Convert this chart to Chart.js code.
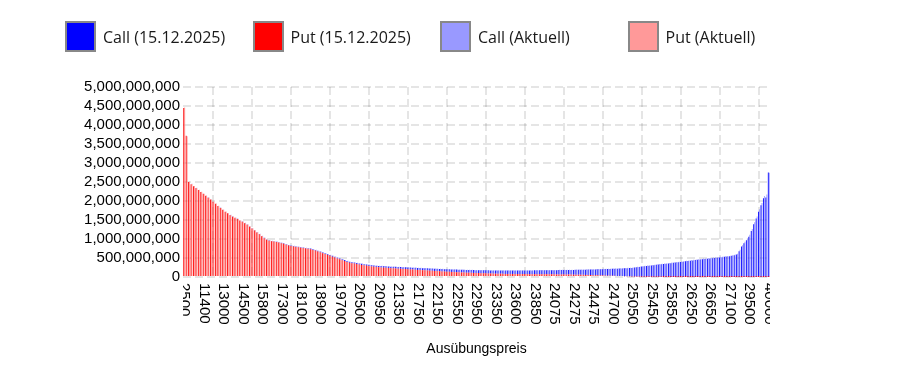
<!DOCTYPE html>
<html><head><meta charset="utf-8">
<script src="https://cdn.jsdelivr.net/npm/chart.js@4.4.1/dist/chart.umd.min.js"></script>
<style>
html,body{margin:0;padding:0;background:#fff;}
#wrap{position:relative;width:911px;height:384px;}
#legend{position:absolute;left:65px;top:21px;display:flex;font-family:'Open Sans',sans-serif;font-size:16px;color:#1a1a1a;}
.item{width:187.5px;display:flex;align-items:center;height:31px;white-space:nowrap;}
.box{width:31px;height:31px;box-sizing:border-box;border:2px solid #888;margin-right:7px;flex:none;}
</style></head><body>
<div id="wrap"><canvas id="c" width="911" height="384"></canvas><div id="legend"></div></div>
<script>
const strikes = [2500,4000,6000,8000,9000,10000,10500,11000,11400,
11600,11800,12000,12200,12400,12600,12800,13000,
13200,13400,13600,13800,14000,14200,14400,14500,
14600,14800,15000,15200,15400,15500,15600,15800,
16000,16200,16400,16600,16800,17000,17200,17300,
17400,17500,17600,17700,17800,17900,18000,18100,
18200,18300,18400,18500,18600,18700,18800,18900,
19000,19100,19200,19300,19400,19500,19600,19700,
19800,19900,20000,20100,20200,20300,20400,20500,
20600,20650,20700,20750,20800,20850,20900,20950,
21000,21050,21100,21150,21200,21250,21300,21350,
21400,21450,21500,21550,21600,21650,21700,21750,
21800,21850,21900,21950,22000,22050,22100,22150,
22200,22250,22300,22350,22400,22450,22500,22550,
22600,22650,22700,22750,22800,22850,22900,22950,
23000,23050,23100,23150,23200,23250,23300,23350,
23400,23450,23475,23500,23525,23550,23575,23600,
23625,23650,23675,23700,23725,23750,23800,23850,
23875,23900,23925,23950,23975,24000,24050,24075,
24100,24125,24150,24175,24200,24225,24250,24275,
24300,24325,24350,24375,24400,24425,24450,24475,
24500,24525,24550,24575,24600,24625,24650,24700,
24750,24800,24850,24900,24950,25000,25025,25050,
25100,25150,25200,25250,25300,25350,25400,25450,
25500,25550,25600,25650,25700,25750,25800,25850,
25900,25950,26000,26050,26100,26150,26200,26250,
26300,26350,26400,26450,26500,26550,26600,26650,
26700,26750,26800,26850,26900,26950,27000,27100,
27200,27400,27600,27800,28000,28500,29000,29500,
30000,31000,32000,33000,34000,35000,37500,40000];

// values in millions
const put15 = [4449,3719,2499,2439,2389,2338,2288,2238,2188,2138,
2088,2038,1977,1927,1867,1817,1767,1717,1676,1626,
1586,1556,1526,1485,1455,1415,1375,1324,1274,1224,
1174,1123,1073,1023,982,957,942,931,919,905,
890,874,851,828,818,805,792,781,771,760,
750,741,732,713,695,672,650,626,602,580,
559,535,513,489,466,444,420,396,374,363,
352,339,329,318,307,296,287,279,271,263,
256,251,246,241,236,232,228,224,220,216,
212,208,203,199,195,191,187,183,179,175,
171,167,163,159,155,151,148,144,141,137,
134,130,127,124,121,118,115,112,109,106,
104,102,100,98,96,94,92,90,88,87,
85,84,82,81,80,79,78,78,77,77,
76,76,75,75,75,74,74,73,73,72,
72,71,70,69,68,67,66,65,64,63,
62,61,60,58,56,54,52,50,48,46,
44,42,40,38,36,34,32,30,28,26,
24,22,20,18,16,14,12,10,9,8,
7,6,5,5,4,4,4,3,3,3,
3,3,2,2,2,2,2,2,2,2,
2,2,2,2,1,1,1,1,1,1,
1,1,1,1,1,1,1,1,1,1,
1,1,1,1,1,1,1,1,1,1,1];

const call15 = [1,1,1,1,1,2,2,2,2,2,
2,2,3,3,3,3,3,3,4,4,
4,4,4,5,5,5,5,6,6,6,
6,7,7,7,8,8,8,9,9,10,
10,11,11,12,12,13,13,14,14,15,
15,16,16,17,17,18,18,19,20,20,
21,22,22,23,24,24,25,26,26,27,
28,29,29,30,31,32,33,33,34,35,
36,37,38,39,40,41,42,43,44,45,
46,47,48,49,50,51,52,53,54,55,
56,57,58,59,60,61,62,63,64,65,
66,67,68,69,70,71,72,73,74,75,
76,77,78,79,80,81,82,83,84,85,
86,87,88,89,90,91,92,93,94,95,
96,97,98,99,100,101,102,103,104,105,
106,107,109,111,113,115,117,119,121,123,
125,127,129,132,136,139,144,146,150,154,
158,162,166,170,174,178,182,187,192,197,
202,207,212,218,222,235,246,256,266,275,
283,292,300,307,316,323,331,339,347,354,
362,369,378,385,393,402,411,419,428,435,
443,450,458,465,474,481,489,495,502,508,
514,522,529,537,544,556,569,589,679,799,
889,969,1059,1209,1389,1539,1719,1889,2069,2089,2749];

const putAkt = [4460,3700,2510,2450,2395,2345,2296,2244,2192,2144,
2093,2042,1985,1932,1873,1822,1771,1722,1680,1632,
1592,1560,1530,1490,1460,1420,1380,1330,1280,1230,
1180,1128,1078,1028,987,960,946,934,922,909,
894,878,855,832,822,809,796,785,774,764,
754,745,736,717,699,676,654,630,606,584,
563,539,517,493,470,448,424,400,378,367,
356,343,333,322,311,300,291,283,275,267,
260,255,250,245,240,236,232,228,224,220,
216,212,207,203,199,195,191,187,183,179,
175,171,167,163,159,155,152,148,145,141,
138,134,131,128,125,122,119,116,113,110,
108,106,104,102,100,98,96,94,92,91,
89,88,86,85,84,83,82,82,81,81,
80,80,79,79,79,78,78,77,77,76,
76,75,74,73,72,71,70,69,68,67,
66,65,64,62,60,58,56,54,52,50,
48,46,44,42,40,38,36,34,32,30,
28,26,24,22,20,18,16,14,12,10,
9,8,7,6,5,5,4,4,4,3,
3,3,3,3,2,2,2,2,2,2,
2,2,2,2,2,2,1,1,1,1,
1,1,1,1,1,1,1,1,1,1,
1,1,1,1,1,1,1,1,1,1,1];

const callAkt = [1,1,1,1,1,2,2,2,2,2,
2,2,3,3,3,3,3,3,4,4,
4,4,4,5,5,5,5,6,6,6,
6,7,7,7,8,8,8,9,9,10,
10,11,11,12,12,13,13,14,14,15,
15,16,16,17,17,18,18,19,20,20,
21,22,22,23,24,24,25,26,26,27,
28,29,29,30,31,32,33,33,34,35,
37,38,39,40,41,42,43,44,45,46,
47,48,49,50,51,52,53,54,55,56,
57,58,59,60,61,62,63,64,65,66,
67,68,69,70,71,72,73,74,75,76,
77,78,79,80,81,82,83,84,85,86,
87,88,89,90,91,92,93,94,95,96,
97,98,99,100,101,102,103,104,105,106,
108,110,112,114,116,118,120,122,124,126,
128,130,132,136,140,143,147,151,155,159,
163,167,171,175,179,183,188,193,198,203,
208,213,218,224,230,241,252,263,274,284,
293,302,310,319,328,336,344,352,360,368,
376,384,392,400,409,418,426,435,443,451,
458,466,474,482,489,497,504,511,518,524,
530,538,546,554,561,573,589,612,714,836,
926,1012,1108,1260,1437,1594,1781,1948,2130,2172,2744];

const seriesLabels = ['Put (15.12.2025)','Call (15.12.2025)','Put (Aktuell)','Call (Aktuell)'];
const legendOrder = [1,0,3,2];
const yTicks = [0,500000000,1000000000,1500000000,2000000000,2500000000,3000000000,3500000000,4000000000,4500000000,5000000000];
const xTitle = 'Ausübungspreis';
const MIO = 1e6;

const htmlLegend = {
  id: 'htmlLegend',
  afterUpdate(chart) {
    const el = document.getElementById('legend');
    el.innerHTML = '';
    legendOrder.forEach(i => {
      const ds = chart.data.datasets[i];
      const item = document.createElement('div'); item.className = 'item';
      const box = document.createElement('span'); box.className = 'box'; box.style.background = ds.backgroundColor;
      const txt = document.createElement('span'); txt.textContent = ds.label;
      item.appendChild(box); item.appendChild(txt); el.appendChild(item);
    });
  }
};

const gridStyle = { color: 'rgba(0,0,0,0.1)', lineWidth: 2, drawTicks: false };
const tickFont = { family: "'Liberation Sans', Arial, sans-serif", size: 15 };
const titleFont = { family: "'Liberation Sans', Arial, sans-serif", size: 14 };

new Chart(document.getElementById('c'), {
  type: 'bar',
  data: {
    labels: strikes.map(String),
    datasets: [
      { label: seriesLabels[0], data: put15.map(v => v * MIO), backgroundColor: '#ff0000', stack: 'd1' },
      { label: seriesLabels[1], data: call15.map(v => v * MIO), backgroundColor: '#0000ff', stack: 'd1' },
      { label: seriesLabels[2], data: putAkt.map(v => v * MIO), backgroundColor: '#ff9999', stack: 'd2' },
      { label: seriesLabels[3], data: callAkt.map(v => v * MIO), backgroundColor: '#9999ff', stack: 'd2' }
    ]
  },
  options: {
    responsive: false,
    animation: false,
    layout: { padding: { left: 0, right: 141, top: 87, bottom: 22 } },
    plugins: { legend: { display: false }, tooltip: { enabled: false } },
    scales: {
      x: {
        stacked: true,
        grid: Object.assign({}, gridStyle),
        border: { display: false, dash: [8, 4] },
        ticks: { autoSkip: true, autoSkipPadding: 0, maxTicksLimit: 31, minRotation: -90, maxRotation: -90, padding: 6, color: '#000', font: tickFont },
        title: { display: true, text: xTitle, color: '#000', font: titleFont, padding: { top: 4, bottom: 4 } },
        afterFit(scale) { scale.height = 85; },
        afterUpdate(scale) {
          scale._computeLabelArea = function () { return { top: this.top, left: this.left, bottom: this.bottom, right: this.right }; };
          scale._getXAxisLabelAlignment = function () { return 'left'; };
        }
      },
      y: {
        stacked: true,
        min: 0, max: 5000000000,
        grid: Object.assign({}, gridStyle),
        border: { display: false, dash: [8, 4] },
        afterBuildTicks(scale) { scale.ticks = yTicks.map(v => ({ value: v })); },
        afterFit(scale) { scale.width = 183; },
        ticks: { autoSkip: false, padding: 3, color: '#000', font: tickFont, callback: v => Number(v).toLocaleString('en-US') }
      }
    }
  },
  plugins: [htmlLegend]
});
</script>
</body></html>
